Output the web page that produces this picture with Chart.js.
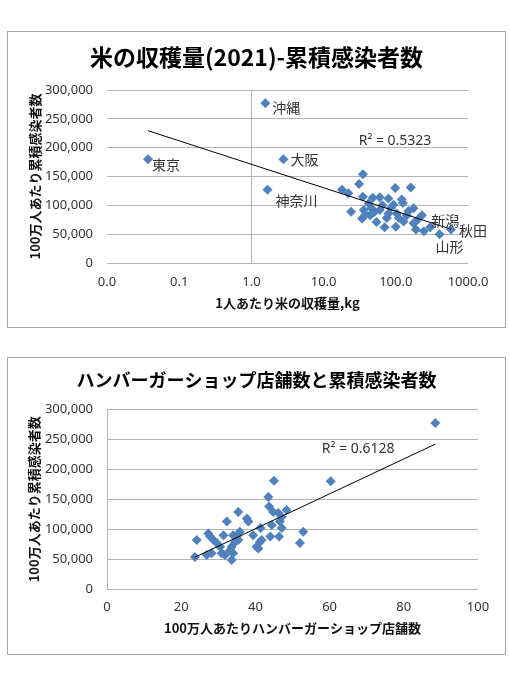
<!DOCTYPE html>
<html>
<head>
<meta charset="utf-8">
<script src="https://cdn.jsdelivr.net/npm/chart.js@4.4.1/dist/chart.umd.min.js"></script>
<style>
body { margin: 0; background: #fff; width: 510px; height: 680px; position: relative; }
.box { position: absolute; left: 7px; width: 497px; border: 1px solid #a6a6a6; }
#box1 { top: 31px; height: 295px; }
#box2 { top: 357px; height: 296px; }
canvas { display: block; }
</style>
</head>
<body>
<div class="box" id="box1"><canvas id="c1" width="497" height="295"></canvas></div>
<div class="box" id="box2"><canvas id="c2" width="497" height="296"></canvas></div>
<script>
// --- dati: riso per abitante (kg) vs casi cumulativi per milione ---
const riceNames = ['東京', '沖縄', '大阪', '神奈川', '新潟', '秋田', '山形'];
const riceKg = [
    0.037, 1.56, 2.78, 1.67, 300, 581, 404,
    35, 31, 18, 22, 98, 161, 24, 35, 48, 60, 79, 121, 42, 93,
    125, 36, 46, 60, 79, 103, 176, 230, 34, 54, 75, 128, 176, 38,
    70, 100, 190, 245, 142, 44, 50, 65, 85, 110, 150, 200
];
const riceCases = [
    180000, 277000, 180000, 127000, 62000, 58000, 50000,
    154000, 137000, 127000, 121000, 130000, 131000, 89000, 115000, 113000, 114000, 112000, 110000, 103000, 101000,
    104000, 92000, 95000, 92000, 86000, 86000, 95000, 83000, 77000, 71000, 78000, 72000, 69000, 84000,
    62000, 63000, 58000, 55000, 83000, 83000, 88000, 100000, 95000, 78000, 90000, 75000
];
const riceTicks = [0.01, 0.1, 1, 10, 100, 1000];

// --- dati: negozi di hamburger per milione vs casi cumulativi per milione ---
const burgerShops = [
    88.5, 60.3, 45, 43.5, 43.7, 44.8, 46.2, 48.4, 47.1, 46.6, 47.1, 44.4, 44, 46.4, 52.9, 52,
    41.4, 39.4, 41.7, 41.2, 40.3, 40.8, 37.7, 38.1, 35.4, 32.3, 35.8, 34, 31.4, 34.9, 35.4, 34.5,
    33.6, 33.2, 34, 33.6, 24.2, 23.7, 27.3, 27.8, 28.7, 29.6, 30.5, 26.9, 28.2, 30.9, 31.8
];
const burgerCases = [
    277000, 180000, 181000, 154000, 138000, 129000, 127000, 132000, 121000, 113000, 102000, 107000, 88000, 88000, 96000, 77000,
    102000, 90000, 82000, 79000, 71000, 68000, 118000, 113000, 129000, 113000, 96000, 90000, 90000, 88000, 82000, 79000,
    71000, 65000, 60000, 49000, 82000, 54000, 93000, 88000, 82000, 77000, 71000, 57000, 60000, 60000, 57000
];

const riceR2 = { text: 'R² = 0.5323', x: 30.6, y: 211500 };
const burgerR2 = { text: 'R² = 0.6128', x: 57.9, y: 234300 };

// Stile
const BLUE = '#4f81bd';
const GRID = '#b3b3b3';
const TEXT = '#333';
const CJK = "'Noto Sans CJK JP', sans-serif";
const NUM = "'Noto Sans', 'Noto Sans CJK JP', sans-serif";
const LABEL_OFFSETS = {
    '東京': [4, 5], '沖縄': [7, 4], '大阪': [7, 0], '神奈川': [8, 11],
    '新潟': [1, -7], '秋田': [8, 1], '山形': [-4, 13]
};

// retta dei minimi quadrati (tx = trasformazione della x, es. log)
const fitLine = (xs, ys, tx) => {
    const n = xs.length;
    let sx = 0, sy = 0, sxx = 0, sxy = 0;
    xs.forEach((x, i) => {
        const u = tx(x);
        sx += u; sy += ys[i]; sxx += u * u; sxy += u * ys[i];
    });
    const b = (n * sxy - sx * sy) / (n * sxx - sx * sx);
    const a = (sy - b * sx) / n;
    const lo = Math.min(...xs), hi = Math.max(...xs);
    return [{ x: lo, y: a + b * tx(lo) }, { x: hi, y: a + b * tx(hi) }];
};

const toPoints = (xs, ys) => xs.map((x, i) => ({ x, y: ys[i] }));

// nomi delle prefetture e testo R²
const pointNames = {
    id: 'pointNames',
    afterDatasetsDraw(chart, args, opts) {
        const ctx = chart.ctx;
        ctx.save();
        ctx.textBaseline = 'middle';
        ctx.textAlign = 'left';
        ctx.fillStyle = TEXT;
        if (opts.names) {
            ctx.font = "14px " + CJK;
            const meta = chart.getDatasetMeta(1);
            opts.names.forEach((name, i) => {
                const p = meta.data[i];
                const [dx, dy] = LABEL_OFFSETS[name];
                ctx.fillText(name, p.x + dx, p.y + dy);
            });
        }
        if (opts.r2) {
            ctx.font = "14px " + NUM;
            ctx.fillText(opts.r2.text,
                chart.scales.x.getPixelForValue(opts.r2.x),
                chart.scales.y.getPixelForValue(opts.r2.y));
        }
        ctx.restore();
    }
};

const yAxis = (titlePad, tickPad, border) => ({
    min: 0, max: 300000,
    ticks: {
        stepSize: 50000, padding: tickPad, color: TEXT,
        font: { family: NUM, size: 13 },
        callback: v => v.toLocaleString('en-US')
    },
    grid: { color: GRID, drawTicks: false },
    border: { display: border, color: GRID },
    title: {
        display: true, text: '100万人あたり累積感染者数', color: '#111',
        font: { family: CJK, size: 13, weight: 'bold' },
        padding: { top: titlePad, bottom: 0 }
    },
    afterFit: s => { s.width = 99; }
});

// asse vuoto a destra: riserva spazio senza spostare il titolo
const spacerAxis = (w) => ({
    position: 'right',
    ticks: { display: false },
    grid: { display: false, drawTicks: false },
    border: { display: false },
    afterFit: s => { s.width = w; }
});

const drawChart = (id, cfg) => {
    new Chart(document.getElementById(id), {
        type: 'scatter',
        data: {
            datasets: [
                {
                    data: cfg.trend, showLine: true, borderColor: '#000', borderWidth: 1,
                    pointRadius: 0, order: 0
                },
                {
                    data: cfg.points, pointStyle: 'rectRot', pointRadius: 5,
                    backgroundColor: BLUE, borderColor: BLUE, borderWidth: 0, order: 1
                }
            ]
        },
        options: {
            responsive: false,
            animation: false,
            devicePixelRatio: 1,
            layout: { padding: { left: 0, right: 0, top: 0, bottom: cfg.bottomPad } },
            scales: { x: cfg.x, y: cfg.y, y2: spacerAxis(cfg.rightSpace) },
            plugins: {
                legend: { display: false },
                tooltip: { enabled: false },
                title: {
                    display: true, text: cfg.title, color: '#000',
                    font: { family: CJK, size: cfg.titleSize, weight: 'bold' },
                    padding: cfg.titlePad
                },
                pointNames: { names: cfg.names, r2: cfg.r2 }
            }
        },
        plugins: [pointNames]
    });
};

// Grafico 1: scala logaritmica
drawChart('c1', {
    title: '米の収穫量(2021)-累積感染者数',
    titleSize: 23,
    titlePad: { top: 11.2, bottom: 19.2 },
    rightSpace: 37,
    bottomPad: 4,
    points: toPoints(riceKg, riceCases),
    trend: fitLine(riceKg, riceCases, Math.log10),
    names: riceNames,
    r2: riceR2,
    x: {
        type: 'logarithmic', min: 0.01, max: 1000,
        afterBuildTicks: s => { s.ticks = riceTicks.map(v => ({ value: v })); },
        ticks: {
            padding: 11.2, color: TEXT, font: { family: NUM, size: 13 },
            callback: v => Number(v).toFixed(1)
        },
        grid: { drawTicks: false, color: c => (c.tick && c.tick.value === 1 ? GRID : 'rgba(0,0,0,0)') },
        border: { display: false },
        title: {
            display: true, text: '1人あたり米の収穫量,kg', color: '#111',
            font: { family: CJK, size: 13, weight: 'bold' },
            padding: { top: 0, bottom: 12.2 }
        },
        afterFit: s => { s.height = 60; }
    },
    y: yAxis(19.2, 14, false)
});

// Grafico 2: scala lineare
drawChart('c2', {
    title: 'ハンバーガーショップ店舗数と累積感染者数',
    titleSize: 18,
    titlePad: { top: 11.2, bottom: 18.5 },
    rightSpace: 27,
    bottomPad: 4.7,
    points: toPoints(burgerShops, burgerCases),
    trend: fitLine(burgerShops, burgerCases, v => v),
    names: null,
    r2: burgerR2,
    x: {
        type: 'linear', min: 0, max: 100,
        ticks: { stepSize: 20, padding: 10.6, color: TEXT, font: { family: NUM, size: 13 } },
        grid: { display: false, drawTicks: false },
        border: { display: false },
        title: {
            display: true, text: '100万人あたりハンバーガーショップ店舗数', color: '#111',
            font: { family: CJK, size: 13, weight: 'bold' },
            padding: { top: 0, bottom: 13.5 }
        },
        afterFit: s => { s.height = 60; }
    },
    y: yAxis(18.2, 14, true)
});
</script>
</body>
</html>
